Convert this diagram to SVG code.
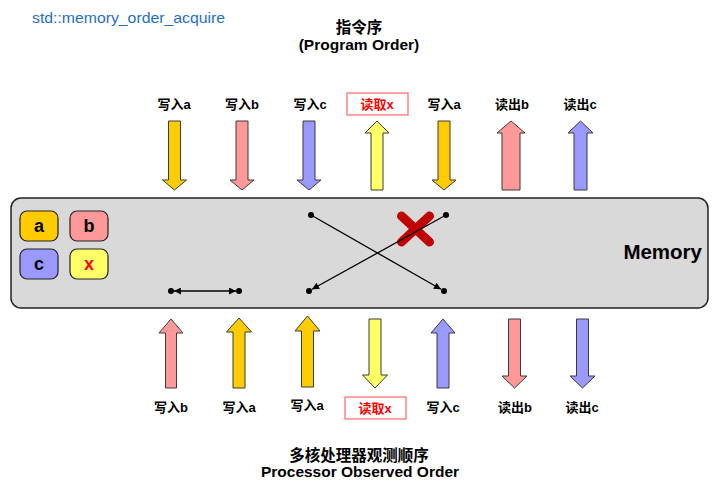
<svg xmlns="http://www.w3.org/2000/svg" width="724" height="493" viewBox="0 0 724 493">
<style>
text{font-family:"Liberation Sans","Noto Sans CJK SC",sans-serif;}
.lbl{font-size:13px;font-weight:bold;fill:#000;text-anchor:middle;}
.lblr{font-size:13px;font-weight:bold;fill:#ff0000;text-anchor:middle;}
.ttl{font-size:15.5px;font-weight:bold;fill:#000;text-anchor:middle;}
.arr{stroke:#3a3a3a;stroke-width:1;stroke-linejoin:miter;}
.gold{fill:#ffcc00;}
.pink{fill:#ff9999;}
.blue{fill:#9999ff;}
.yel{fill:#ffff66;}
.cell{stroke:#222;stroke-width:1.2;}
.cl{font-size:18px;font-weight:bold;text-anchor:middle;}
.con{stroke:#000;stroke-width:1.3;fill:none;}
.dot{fill:#000;}
.rbox{fill:#fff;stroke:#ff6666;stroke-width:1.2;}
</style>
<defs>
<marker id="ah" viewBox="0 0 10 10" refX="10" refY="5" markerWidth="9" markerHeight="7" markerUnits="userSpaceOnUse" orient="auto-start-reverse">
<path d="M0,0 L10,5 L0,10 Z" fill="#000"/>
</marker>
</defs>
<rect width="724" height="493" fill="#fff"/>
<text x="32" y="23" font-size="15" fill="#1f6fc6" textLength="193" lengthAdjust="spacingAndGlyphs">std::memory_order_acquire</text>
<text class="ttl" x="359" y="33">指令序</text>
<text class="ttl" x="359" y="50">(Program Order)</text>

<g id="memory">
<rect x="11" y="198" width="697" height="110" rx="10" fill="#d9d9d9" stroke="#222" stroke-width="1.5"/>
<text x="702" y="259" font-size="20.5" font-weight="bold" text-anchor="end" fill="#000">Memory</text>
</g>
<g id="cell-a"><rect class="cell gold" x="20" y="211" width="38" height="30" rx="7"/><text class="cl" x="39" y="232" fill="#000">a</text></g>
<g id="cell-b"><rect class="cell pink" x="70" y="211" width="38" height="30" rx="7"/><text class="cl" x="89" y="232" fill="#000">b</text></g>
<g id="cell-c"><rect class="cell blue" x="20" y="249" width="38" height="30" rx="7"/><text class="cl" x="39" y="270" fill="#000">c</text></g>
<g id="cell-x"><rect class="cell yel" x="70" y="249" width="38" height="30" rx="7"/><text class="cl" x="89" y="270" fill="#ff0000">x</text></g>

<!-- top row -->
<g id="t1"><text class="lbl" x="174" y="109">写入a</text><path class="arr gold" d="M168.5,121 H180.5 V180 H186.5 L174.5,190 L162.5,180 H168.5 Z"/></g>
<g id="t2"><text class="lbl" x="242" y="109">写入b</text><path class="arr pink" d="M236,121 H248 V180 H254 L242,190 L230,180 H236 Z"/></g>
<g id="t3"><text class="lbl" x="310" y="109">写入c</text><path class="arr blue" d="M303,121 H315 V180 H321 L309,190 L297,180 H303 Z"/></g>
<g id="t4"><rect class="rbox" x="347" y="93" width="61" height="22"/><text class="lblr" x="377" y="109">读取x</text><path class="arr yel" d="M377,121 L389,133 H383 V190 H371 V133 H365 Z"/></g>
<g id="t5"><text class="lbl" x="444" y="109">写入a</text><path class="arr gold" d="M438,121 H450 V180 H456 L444,190 L432,180 H438 Z"/></g>
<g id="t6"><text class="lbl" x="512" y="109">读出b</text><path class="arr pink" d="M511,121 L525,133 H520 V190 H502 V133 H497 Z"/></g>
<g id="t7"><text class="lbl" x="580" y="109">读出c</text><path class="arr blue" d="M580.5,121 L593,133 H587 V190 H574 V133 H568 Z"/></g>

<!-- bottom row -->
<g id="b1"><path class="arr pink" d="M171,319 L183,333 H176.5 V388 H165.5 V333 H159 Z"/><text class="lbl" x="171" y="412">写入b</text></g>
<g id="b2"><path class="arr gold" d="M239,318 L251.5,332 H245 V388 H233 V332 H226.5 Z"/><text class="lbl" x="239" y="412">写入a</text></g>
<g id="b3"><path class="arr gold" d="M307.5,316 L320,331 H313.5 V387 H301.5 V331 H295 Z"/><text class="lbl" x="307" y="410">写入a</text></g>
<g id="b4"><path class="arr yel" d="M369,319 H381 V375 H387.5 L375,388 L362.5,375 H369 Z"/><rect class="rbox" x="345" y="397" width="61" height="22"/><text class="lblr" x="375" y="413">读取x</text></g>
<g id="b5"><path class="arr blue" d="M443,319 L455,333 H449 V388 H437 V333 H431 Z"/><text class="lbl" x="443" y="412">写入c</text></g>
<g id="b6"><path class="arr pink" d="M508.5,319 H520.5 V376 H527 L514.5,388 L502,376 H508.5 Z"/><text class="lbl" x="515" y="412">读出b</text></g>
<g id="b7"><path class="arr blue" d="M576.5,319 H588.5 V376 H595 L582.5,388 L570,376 H576.5 Z"/><text class="lbl" x="582" y="412">读出c</text></g>

<g id="redx" stroke="#c00000" stroke-width="9" stroke-linecap="round">
<line x1="401.5" y1="216" x2="429.5" y2="242"/>
<line x1="429.5" y1="216" x2="401.5" y2="242"/>
</g>

<g id="connectors">
<line class="con" x1="174" y1="291" x2="236" y2="291" marker-start="url(#ah)" marker-end="url(#ah)"/>
<circle class="dot" cx="171" cy="291" r="3"/>
<circle class="dot" cx="239" cy="291" r="3"/>
<line class="con" x1="311" y1="215" x2="441" y2="289.3" marker-end="url(#ah)"/>
<line class="con" x1="446" y1="215" x2="312" y2="289.3" marker-end="url(#ah)"/>
<circle class="dot" cx="311" cy="215" r="3"/>
<circle class="dot" cx="446" cy="215" r="3"/>
<circle class="dot" cx="309" cy="291" r="3"/>
<circle class="dot" cx="444" cy="291" r="3"/>
</g>

<text class="ttl" x="359" y="461">多核处理器观测顺序</text>
<text class="ttl" x="360" y="477">Processor Observed Order</text>
</svg>
